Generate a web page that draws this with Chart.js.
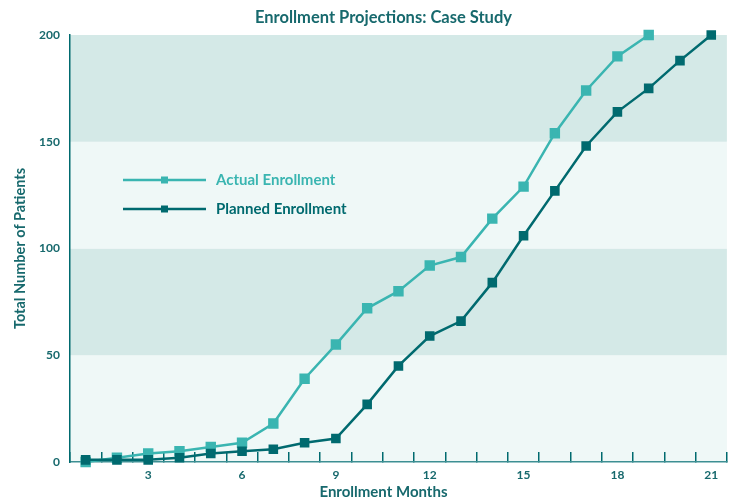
<!DOCTYPE html>
<html>
<head>
<meta charset="utf-8">
<title>Enrollment Projections: Case Study</title>
<script src="https://cdn.jsdelivr.net/npm/chart.js@4.4.1/dist/chart.umd.min.js"></script>
<style>
    html, body { margin: 0; padding: 0; background: #fff; }
    #wrap { width: 735px; height: 502px; }
</style>
</head>
<body>
<div id="wrap"><canvas id="chart"></canvas></div>
<script>
const months = [1, 2, 3, 4, 5, 6, 7, 8, 9, 10, 11, 12, 13, 14, 15, 16, 17, 18, 19, 20, 21];
const monthTicks = [3, 6, 9, 12, 15, 18, 21];
const actualEnrollment = [0, 2, 4, 5, 7, 9, 18, 39, 55, 72, 80, 92, 96, 114, 129, 154, 174, 190, 200];
const plannedEnrollment = [1, 1, 1, 2, 4, 5, 6, 9, 11, 27, 45, 59, 66, 84, 106, 127, 148, 164, 175, 188, 200];
const patientTicks = [0, 50, 100, 150, 200];

const titleText = "Enrollment Projections: Case Study";
const xTitleText = "Enrollment Months";
const yTitleText = "Total Number of Patients";

const textColor = "#17696d";
const actualColor = "#3ab5b1";
const plannedColor = "#006a6f";
const bandLight = "#eff8f7";
const bandDark = "#d4e9e7";
const fontFamily = "Lato, 'Noto Sans', sans-serif";

// alternating horizontal bands between the y ticks
const bandsPlugin = {
    id: "bands",
    beforeDraw(chart) {
        const ctx = chart.ctx;
        const area = chart.chartArea;
        const y = chart.scales.y;
        ctx.save();
        for (let i = 0; i < patientTicks.length - 1; i++) {
            const top = y.getPixelForValue(patientTicks[i + 1]);
            const bottom = y.getPixelForValue(patientTicks[i]);
            ctx.fillStyle = i % 2 === 0 ? bandLight : bandDark;
            ctx.fillRect(area.left, top, area.right - area.left, bottom - top);
        }
        ctx.restore();
    },
};

// legend sits inside the plot, line + square marker
const insideLegend = {
    id: "insideLegend",
    afterDraw(chart) {
        const ctx = chart.ctx;
        const area = chart.chartArea;
        const entries = [chart.data.datasets[1], chart.data.datasets[0]];
        ctx.save();
        entries.forEach((ds, i) => {
            const y = area.top + 145 + i * 29;
            const x1 = area.left + 53;
            const x2 = area.left + 136;
            ctx.strokeStyle = ds.borderColor;
            ctx.lineWidth = 2.5;
            ctx.beginPath();
            ctx.moveTo(x1, y);
            ctx.lineTo(x2, y);
            ctx.stroke();
            ctx.fillStyle = ds.borderColor;
            ctx.fillRect((x1 + x2) / 2 - 3.5, y - 3.5, 7, 7);
            ctx.font = "bold 15px " + fontFamily;
            ctx.textBaseline = "middle";
            ctx.textAlign = "left";
            ctx.fillText(ds.label, area.left + 146, y);
        });
        ctx.restore();
    },
};

// main title and x title, both centred a little left of the plot centre
const titlesPlugin = {
    id: "titles",
    afterDraw(chart) {
        const ctx = chart.ctx;
        const area = chart.chartArea;
        const cx = (area.left + area.right) / 2 - 15;
        ctx.save();
        ctx.fillStyle = textColor;
        ctx.textAlign = "center";
        ctx.textBaseline = "middle";
        ctx.font = "bold 16.5px " + fontFamily;
        ctx.fillText(titleText, cx, area.top - 17);
        ctx.font = "bold 15px " + fontFamily;
        ctx.fillText(xTitleText, cx, area.bottom + 30);
        ctx.restore();
    },
};

const chart = new Chart(document.getElementById("chart"), {
    type: "line",
    data: {
        labels: months,
        datasets: [
            {
                label: "Planned Enrollment",
                data: plannedEnrollment,
                borderColor: plannedColor,
                backgroundColor: plannedColor,
                borderWidth: 2.5,
                pointStyle: "rect",
                pointRadius: 5,
                pointHoverRadius: 5,
                tension: 0,
                clip: false,
            },
            {
                label: "Actual Enrollment",
                data: actualEnrollment,
                borderColor: actualColor,
                backgroundColor: actualColor,
                borderWidth: 2.5,
                pointStyle: "rect",
                pointRadius: 5.6,
                pointHoverRadius: 5.6,
                tension: 0,
                clip: false,
            },
        ],
    },
    options: {
        responsive: true,
        maintainAspectRatio: false,
        animation: false,
        layout: { padding: { top: 35, right: 8, bottom: 0, left: 0 } },
        plugins: {
            legend: { display: false },
            tooltip: { enabled: false },
        },
        scales: {
            x: {
                type: "category",
                offset: true,
                afterFit: (scale) => { scale.height = 40; },
                grid: {
                    offset: true,
                    drawOnChartArea: false,
                    tickLength: -10,
                    color: plannedColor,
                    lineWidth: 1.5,
                },
                border: { color: "#3d8f93", width: 1.5 },
                ticks: {
                    autoSkip: false,
                    maxRotation: 0,
                    padding: 16,
                    color: textColor,
                    font: { family: fontFamily, size: 12, weight: "bold" },
                    callback: function (value) {
                        const m = this.getLabelForValue(value);
                        return monthTicks.includes(m) ? String(m) : "";
                    },
                },
            },
            y: {
                min: 0,
                max: 200,
                afterFit: (scale) => { scale.width = 70; },
                afterBuildTicks: (scale) => {
                    scale.ticks = patientTicks.map((v) => ({ value: v }));
                },
                grid: { display: true, drawOnChartArea: false, drawTicks: false },
                border: { color: plannedColor, width: 1.5 },
                ticks: {
                    padding: 10,
                    color: textColor,
                    font: { family: fontFamily, size: 12, weight: "bold" },
                },
                title: {
                    display: true,
                    text: yTitleText,
                    color: textColor,
                    font: { family: fontFamily, size: 14.5, weight: "bold" },
                    padding: { top: 12, bottom: 0 },
                },
            },
        },
    },
    plugins: [bandsPlugin, insideLegend, titlesPlugin],
});
</script>
</body>
</html>
